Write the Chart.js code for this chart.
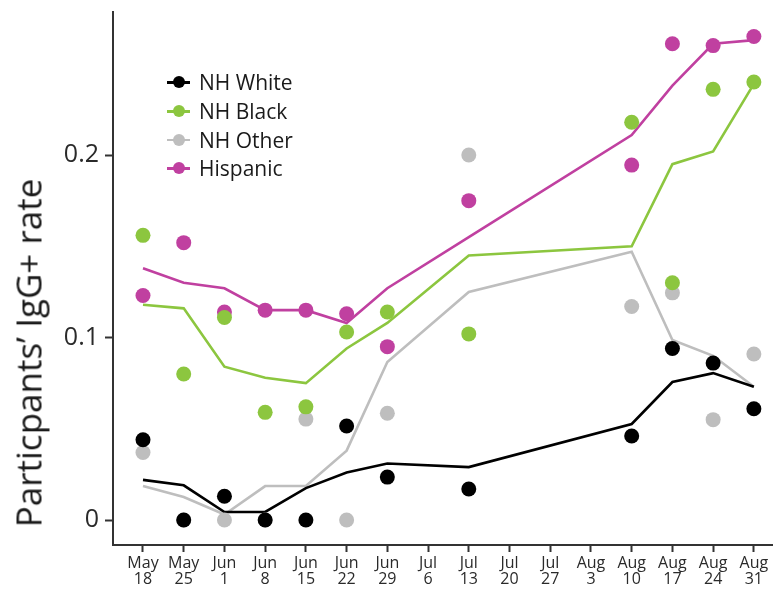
<!DOCTYPE html>
<html>
<head>
<meta charset="utf-8">
<script src="https://cdn.jsdelivr.net/npm/chart.js@4.4.0/dist/chart.umd.min.js"></script>
<style>
  html, body { margin:0; padding:0; background:#fff; }
  #wrap { position:relative; width:773px; height:592px; }
  #c { position:absolute; left:0; top:0; }
  #ytitle { position:absolute; left:28px; top:353px; transform:translate(-50%,-50%) rotate(-90deg);
    white-space:nowrap; font-family:"Open Sans", sans-serif; color:#1a1a1a; font-size:35px; }
  #legend { position:absolute; left:167px; top:68px; font-family:"Open Sans", sans-serif; font-size:21px; color:#1a1a1a; }
  .row { height:28.7px; display:flex; align-items:center; }
  .sym { position:relative; width:23px; height:14px; margin-right:9px; }
  .sym .ln { position:absolute; left:0; right:0; top:6px; height:2.5px; }
  .sym .dt { position:absolute; left:6px; top:1px; width:12px; height:12px; border-radius:50%; }
</style>
</head>
<body>
<div id="wrap">
  <canvas id="c" width="773" height="592"></canvas>
  <div id="ytitle">Particpants’ IgG+ rate</div>
  <div id="legend"></div>
</div>
<script>
// Week index 0 = May 18, ... 15 = Aug 31
const tickLabels = [["May","18"],["May","25"],["Jun","1"],["Jun","8"],["Jun","15"],["Jun","22"],["Jun","29"],["Jul","6"],["Jul","13"],["Jul","20"],["Jul","27"],["Aug","3"],["Aug","10"],["Aug","17"],["Aug","24"],["Aug","31"]];
const weeks = [0,1,2,3,4,5,6,8,12,13,14,15];
const yTicks = [0, 0.1, 0.2];

const seriesNames = ["NH White","NH Black","NH Other","Hispanic"];
const seriesColors = ["#000000","#8cc63f","#bebebe","#c040a0"];

// observed rates (dots)
const whiteDots    = [0.044, 0.000, 0.013, 0.000, 0.000, 0.0515, 0.0235, 0.017, 0.046, 0.094, 0.086, 0.061];
const blackDots    = [0.156, 0.080, 0.111, 0.059, 0.062, 0.103, 0.114, 0.102, 0.218, 0.130, 0.236, 0.240];
const otherDots    = [0.037, 0.000, 0.000, 0.000, 0.0553, 0.000, 0.0585, 0.200, 0.117, 0.1245, 0.055, 0.091];
const hispanicDots = [0.123, 0.152, 0.114, 0.115, 0.115, 0.113, 0.095, 0.175, 0.1945, 0.261, 0.260, 0.265];

// smoothed rates (lines)
const whiteLine    = [0.022, 0.019, 0.0044, 0.0044, 0.0175, 0.026, 0.031, 0.029, 0.0526, 0.0756, 0.0805, 0.073];
const blackLine    = [0.118, 0.116, 0.084, 0.078, 0.075, 0.094, 0.108, 0.145, 0.150, 0.195, 0.202, 0.239];
const otherLine    = [0.0186, 0.0126, 0.003, 0.0186, 0.0186, 0.038, 0.0866, 0.125, 0.147, 0.0986, 0.090, 0.073];
const hispanicLine = [0.138, 0.130, 0.127, 0.115, 0.115, 0.108, 0.127, 0.155, 0.211, 0.238, 0.261, 0.263];

const dotSets = [whiteDots, blackDots, otherDots, hispanicDots];
const lineSets = [whiteLine, blackLine, otherLine, hispanicLine];
const toXY = arr => arr.map((v,i)=>({x:weeks[i], y:v}));

const datasets = [];
dotSets.forEach((d,i)=>{
  datasets.push({label:seriesNames[i]+" obs", data:toXY(d), showLine:false,
    pointRadius:7.5, pointHoverRadius:7.5, pointBorderWidth:0,
    backgroundColor:seriesColors[i], borderColor:seriesColors[i], order:i+1, clip:false});
});
lineSets.forEach((d,i)=>{
  datasets.push({label:seriesNames[i], data:toXY(d), showLine:true, pointRadius:0,
    borderWidth:2.6, borderColor:seriesColors[i], backgroundColor:seriesColors[i],
    tension:0, order:10+i});
});

// legend
const lg = document.getElementById('legend');
seriesNames.forEach((n,i)=>{
  const r = document.createElement('div'); r.className='row';
  r.innerHTML = '<div class="sym"><div class="ln" style="background:'+seriesColors[i]+'"></div><div class="dt" style="background:'+seriesColors[i]+'"></div></div><span>'+n+'</span>';
  lg.appendChild(r);
});

const axisColor = '#333';
new Chart(document.getElementById('c'), {
  type:'scatter',
  data:{datasets},
  options:{
    responsive:false, animation:false, devicePixelRatio:1,
    layout:{autoPadding:false, padding:{left:0,right:0,top:12,bottom:0}},
    plugins:{legend:{display:false}, tooltip:{enabled:false}},
    scales:{
      x:{type:'linear', min:-0.7365, max:15.47,
        afterBuildTicks:s=>{ s.ticks = tickLabels.map((_,i)=>({value:i})); },
        afterFit:s=>{ s.height = 47; s.paddingLeft = 0; s.paddingRight = 0; },
        ticks:{callback:v=>tickLabels[v], color:'#2a2a2a', font:{family:'Open Sans', size:16, lineHeight:1.02}, padding:3, maxRotation:0, autoSkip:false},
        grid:{drawOnChartArea:false, drawTicks:true, tickLength:7, tickWidth:2, tickColor:axisColor},
        border:{display:true, color:axisColor, width:2}
      },
      y:{type:'linear', min:-0.0137, max:0.2784,
        afterBuildTicks:s=>{ s.ticks = yTicks.map(v=>({value:v})); },
        afterFit:s=>{ s.width = 113; s.paddingTop = 0; s.paddingBottom = 0; },
        ticks:{callback:v=>String(v), color:'#2a2a2a', font:{family:'Open Sans', size:25}, padding:6},
        grid:{drawOnChartArea:false, drawTicks:true, tickLength:8, tickWidth:2, tickColor:axisColor},
        border:{display:true, color:axisColor, width:2}
      }
    }
  }
});
</script>
</body>
</html>
